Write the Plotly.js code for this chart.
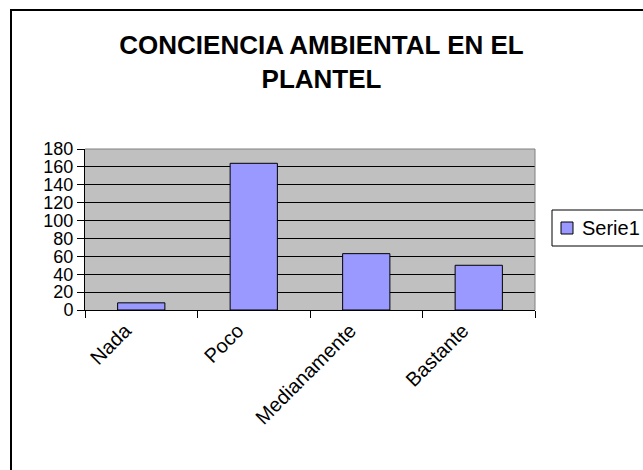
<!DOCTYPE html>
<html>
<head>
<meta charset="utf-8">
<script src="https://cdn.plot.ly/plotly-3.0.1.min.js"></script>
<style>
html,body{margin:0;padding:0;background:#fff;}
#chart{width:643px;height:470px;}
</style>
</head>
<body>
<div id="chart"></div>
<script>
var categories = ["Nada", "Poco", "Medianamente", "Bastante"];
var serie1 = [8, 164, 63, 50];
var seriesName = "Serie1";
var yTicks = [0, 20, 40, 60, 80, 100, 120, 140, 160, 180];
var titleText = "CONCIENCIA AMBIENTAL EN EL<br>PLANTEL";

var font = "Liberation Sans, Arial, sans-serif";
var barColor = "#9999FF";

// plot area geometry (pixels) used to convert paper coordinates
var L = 85, R = 535, T = 149, B = 310;
function px(x) { return (x - L) / (R - L); }
function py(y) { return (B - y) / (B - T); }

var trace = {
  type: "bar",
  x: categories,
  y: serie1,
  name: seriesName,
  marker: {color: barColor, line: {color: "#000000", width: 1}},
  hoverinfo: "none",
  showlegend: false
};

var layout = {
  width: 643,
  height: 470,
  margin: {l: L, r: 643 - R, t: T, b: 470 - B},
  paper_bgcolor: "#FFFFFF",
  plot_bgcolor: "#C0C0C0",
  bargap: 0.58,
  showlegend: false,
  font: {family: font, color: "#000000", size: 18},
  title: {
    text: titleText,
    font: {family: font, size: 26, color: "#000000", weight: "bold"},
    x: 0.5, xref: "container", xanchor: "center",
    y: 1 - 54/470, yref: "container", yanchor: "top"
  },
  xaxis: {
    type: "category",
    showgrid: false,
    showline: true, linecolor: "#000000", linewidth: 1,
    ticks: "outside", ticklen: 7, tickcolor: "#000000", tickwidth: 1,
    tickson: "boundaries",
    tickangle: -45,
    ticklabelshift: -16,
    tickfont: {family: font, size: 20, color: "#000000"},
    zeroline: false,
    automargin: false,
    fixedrange: true
  },
  yaxis: {
    range: [0, 180],
    tickvals: yTicks,
    ticktext: yTicks.map(String),
    showgrid: true, gridcolor: "#000000", gridwidth: 1,
    showline: true, linecolor: "#000000", linewidth: 1,
    ticks: "outside", ticklen: 7, tickcolor: "#000000", tickwidth: 1,
    tickfont: {family: font, size: 18, color: "#000000"},
    zeroline: false,
    automargin: false,
    fixedrange: true
  },
  shapes: [
    {type: "line", xref: "paper", yref: "paper", x0: 0, x1: 1, y0: 1, y1: 1,
     line: {color: "#808080", width: 1}},
    {type: "line", xref: "paper", yref: "paper", x0: 1, x1: 1, y0: 0, y1: 1,
     line: {color: "#808080", width: 1}},
    // outer chart frame
    {type: "rect", xref: "paper", yref: "paper",
     x0: px(11), x1: px(660), y0: py(480), y1: py(10),
     line: {color: "#000000", width: 2}, fillcolor: "rgba(0,0,0,0)", layer: "above"},
    // legend box
    {type: "rect", xref: "paper", yref: "paper",
     x0: px(552), x1: px(660), y0: py(246), y1: py(210),
     line: {color: "#000000", width: 1}, fillcolor: "#FFFFFF", layer: "above"},
    // legend key
    {type: "rect", xref: "paper", yref: "paper",
     x0: px(561), x1: px(573), y0: py(234), y1: py(222),
     line: {color: "#000000", width: 1}, fillcolor: barColor, layer: "above"}
  ],
  annotations: [
    {text: seriesName, xref: "paper", yref: "paper", x: px(580), y: py(228),
     xanchor: "left", yanchor: "middle", showarrow: false,
     font: {family: font, size: 20, color: "#000000"}}
  ]
};

Plotly.newPlot("chart", [trace], layout, {displayModeBar: false, staticPlot: true});
</script>
</body>
</html>
